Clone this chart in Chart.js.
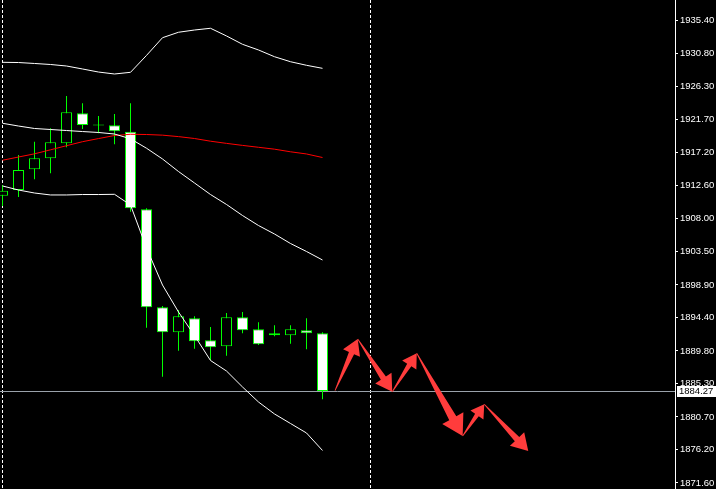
<!DOCTYPE html>
<html>
<head>
<meta charset="utf-8">
<script src="https://cdn.jsdelivr.net/npm/chart.js@4.4.1/dist/chart.umd.min.js"></script>
<style>
  html, body { margin: 0; padding: 0; background: #000; }
  #wrap { width: 716px; height: 489px; }
</style>
</head>
<body>
<div id="wrap"><canvas id="xau" width="716" height="489"></canvas></div>
<script>
// candles, one per bar slot (index 0..20)
const opens  = [1911.19,1911.97,1914.83,1916.34,1918.41,1922.54,1921.00,1920.89,1920.01,1909.31,1895.81,1892.36,1894.29,1891.26,1890.44,1894.43,1892.78,1892.23,1891.95,1892.64,1892.23];
const highs  = [1912.66,1916.80,1918.63,1920.48,1924.93,1923.92,1922.17,1922.45,1923.92,1909.45,1895.99,1895.44,1894.57,1893.10,1895.02,1895.16,1893.74,1893.33,1893.33,1894.29,1892.36];
const lows   = [1909.77,1911.01,1913.45,1914.27,1917.86,1920.38,1919.79,1918.27,1908.98,1893.00,1886.25,1889.83,1890.10,1888.55,1889.14,1892.23,1890.60,1891.81,1890.79,1890.02,1883.13];
const closes = [1911.88,1914.73,1916.34,1918.55,1922.68,1920.93,1920.86,1920.06,1909.45,1895.81,1892.36,1894.57,1891.12,1890.30,1894.43,1892.64,1890.71,1891.95,1892.78,1892.23,1884.27];

// indicator lines
const upperBand  = [1929.57,1929.54,1929.41,1929.27,1929.06,1928.65,1928.23,1927.96,1928.19,1930.52,1932.96,1933.71,1934.02,1934.26,1933.20,1932.05,1931.27,1930.34,1929.65,1929.16,1928.74];
const innerBand  = [1921.17,1920.79,1920.45,1920.31,1920.17,1920.03,1919.90,1919.69,1919.03,1917.73,1916.25,1914.52,1912.94,1911.35,1909.98,1908.46,1907.08,1905.91,1904.60,1903.50,1902.33];
const redAverage = [1916.07,1916.52,1916.96,1917.51,1918.08,1918.63,1919.06,1919.48,1919.65,1919.62,1919.53,1919.33,1919.07,1918.70,1918.40,1918.12,1917.86,1917.60,1917.24,1916.94,1916.45];
const lowerBand  = [1912.53,1911.97,1911.56,1911.29,1911.29,1911.35,1911.35,1911.38,1909.91,1903.98,1898.88,1895.16,1891.92,1888.48,1887.03,1884.83,1882.76,1881.11,1879.80,1878.49,1876.08];

const priceTicks = [1935.40,1930.80,1926.30,1921.70,1917.20,1912.60,1908.00,1903.50,1898.90,1894.40,1889.80,1885.30,1880.70,1876.20,1871.60];
const lastPrice = 1884.27;
const separators = [0, 23];

// red forecast arrows (bar index, price)
const arrowIdx   = [20.78,22.20,24.36,25.89,28.76,30.11,32.86];
const arrowPrice = [1884.32,1891.44,1884.18,1889.47,1878.08,1882.44,1876.01];

const GREEN = '#00ff00';
const AXIS_FONT = '"Liberation Sans", Arial, sans-serif';

const lineSet = (data, color) => ({
    type: 'line',
    data: data.map((v, i) => ({x: i, y: v})),
    borderColor: color,
    borderWidth: 1,
    pointRadius: 0,
    tension: 0,
    order: 0
});

const overlay = {
    id: 'overlay',
    beforeDatasetsDraw(chart) {
        const {ctx, chartArea: a, scales: {x, y}} = chart;
        ctx.save();
        ctx.strokeStyle = '#ffffff';
        ctx.lineWidth = 1;
        ctx.setLineDash([3, 2]);
        separators.forEach(s => {
            const px = Math.round(x.getPixelForValue(s) - 0.5) + 0.5;
            ctx.beginPath();
            ctx.moveTo(px, a.top);
            ctx.lineTo(px, a.bottom);
            ctx.stroke();
        });
        ctx.setLineDash([]);
        const py = Math.round(y.getPixelForValue(lastPrice)) + 0.5;
        ctx.strokeStyle = '#9aa2aa';
        ctx.beginPath();
        ctx.moveTo(a.left, py);
        ctx.lineTo(a.right, py);
        ctx.stroke();
        ctx.restore();
    },
    afterDatasetsDraw(chart) {
        const {ctx, scales: {x, y}} = chart;
        ctx.save();
        ctx.fillStyle = '#ff3c3c';
        for (let k = 0; k < arrowIdx.length - 1; k++) {
            const x0 = x.getPixelForValue(arrowIdx[k]), y0 = y.getPixelForValue(arrowPrice[k]);
            const x1 = x.getPixelForValue(arrowIdx[k + 1]), y1 = y.getPixelForValue(arrowPrice[k + 1]);
            const dx = x1 - x0, dy = y1 - y0, L = Math.hypot(dx, dy);
            const ux = dx / L, uy = dy / L, nx = -uy, ny = ux;
            const h = 8 + 0.13 * L, hw = 5 + 0.075 * L, sw = 1 + 0.032 * L, s0 = 0.4;
            const bx = x1 - ux * h, by = y1 - uy * h;
            ctx.beginPath();
            ctx.moveTo(x0 + nx * s0, y0 + ny * s0);
            ctx.lineTo(bx + nx * sw, by + ny * sw);
            ctx.lineTo(bx + nx * hw, by + ny * hw);
            ctx.lineTo(x1, y1);
            ctx.lineTo(bx - nx * hw, by - ny * hw);
            ctx.lineTo(bx - nx * sw, by - ny * sw);
            ctx.lineTo(x0 - nx * s0, y0 - ny * s0);
            ctx.closePath();
            ctx.fill();
        }
        ctx.restore();
    },
    afterDraw(chart) {
        const {ctx, chartArea: a, scales: {y}} = chart;
        const py = Math.round(y.getPixelForValue(lastPrice));
        ctx.save();
        ctx.fillStyle = '#ffffff';
        ctx.fillRect(a.right + 2, py - 5, 716 - a.right - 2, 11);
        ctx.fillStyle = '#000000';
        ctx.font = '9.5px ' + AXIS_FONT;
        ctx.textBaseline = 'middle';
        ctx.fillText(lastPrice.toFixed(2), a.right + 4, py + 0.5);
        ctx.restore();
    }
};

new Chart(document.getElementById('xau'), {
    type: 'bar',
    data: {
        datasets: [
            lineSet(upperBand, '#ffffff'),
            lineSet(innerBand, '#ffffff'),
            lineSet(lowerBand, '#ffffff'),
            lineSet(redAverage, '#ff0000'),
            {
                // bodies
                data: opens.map((o, i) => ({x: i, y: [o, closes[i]]})),
                backgroundColor: opens.map((o, i) => closes[i] < o ? '#ffffff' : '#000000'),
                borderColor: GREEN,
                borderWidth: 1,
                borderSkipped: false,
                barThickness: 11,
                grouped: false,
                inflateAmount: 0,
                minBarLength: 1,
                order: 1
            },
            {
                // wicks
                data: highs.map((hv, i) => ({x: i, y: [lows[i], hv]})),
                backgroundColor: GREEN,
                borderWidth: 0,
                barThickness: 1,
                grouped: false,
                inflateAmount: 0,
                order: 2
            }
        ]
    },
    options: {
        responsive: false,
        animation: false,
        events: [],
        layout: { padding: 0, autoPadding: false },
        plugins: { legend: { display: false }, tooltip: { enabled: false } },
        scales: {
            x: {
                type: 'linear',
                display: false,
                offset: false,
                min: -0.15625,
                max: 42.03125
            },
            y: {
                type: 'linear',
                position: 'right',
                min: 1870.772,
                max: 1938.156,
                afterBuildTicks: s => { s.ticks = priceTicks.map(v => ({value: v})); },
                afterFit: s => { s.width = 41; s.paddingTop = 0; s.paddingBottom = 0; },
                grid: { drawOnChartArea: false, drawTicks: true, tickLength: 3, color: '#ffffff' },
                border: { display: true, color: '#ffffff', width: 1 },
                ticks: {
                    color: '#ffffff',
                    padding: 2,
                    autoSkip: false,
                    font: { family: AXIS_FONT, size: 9.5 },
                    callback: v => Number(v).toFixed(2)
                }
            }
        }
    },
    plugins: [overlay]
});
</script>
</body>
</html>
